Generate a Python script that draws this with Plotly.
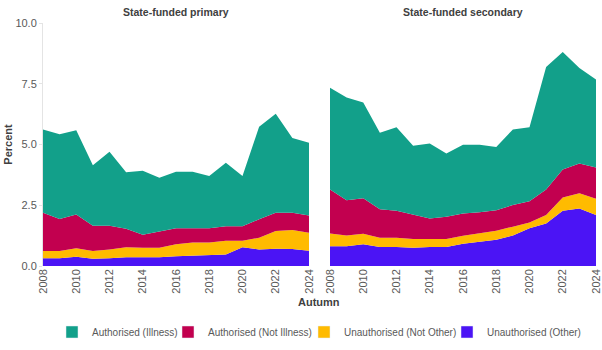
import plotly.graph_objects as go

years = list(range(2008, 2025))

series_names = ["Authorised (Illness)", "Authorised (Not Illness)",
                "Unauthorised (Not Other)", "Unauthorised (Other)"]
colors = ["#12A08A", "#C2004F", "#FFBB00", "#4B14F5"]

# State-funded primary
prim_illness = [3.43, 3.49, 3.47, 2.49, 3.04, 2.33, 2.63, 2.21, 2.33, 2.33, 2.15, 2.61, 2.06, 3.81, 4.08, 3.08, 2.99]
prim_not_illness = [1.57, 1.31, 1.39, 1.04, 0.98, 0.76, 0.54, 0.67, 0.66, 0.58, 0.58, 0.60, 0.60, 0.76, 0.75, 0.71, 0.71]
prim_not_other = [0.30, 0.30, 0.35, 0.32, 0.36, 0.41, 0.39, 0.39, 0.49, 0.55, 0.55, 0.57, 0.27, 0.48, 0.73, 0.78, 0.74]
prim_other = [0.32, 0.32, 0.38, 0.30, 0.32, 0.36, 0.36, 0.36, 0.40, 0.42, 0.42, 0.47, 0.77, 0.68, 0.71, 0.70, 0.63]

# State-funded secondary
sec_illness = [4.19, 4.22, 3.94, 3.14, 3.44, 2.85, 3.09, 2.60, 2.83, 2.78, 2.61, 3.11, 3.05, 5.04, 4.84, 3.93, 3.63]
sec_not_illness = [1.81, 1.45, 1.46, 1.18, 1.11, 0.99, 0.84, 0.92, 0.91, 0.87, 0.84, 0.89, 0.87, 1.05, 1.15, 1.23, 1.28]
sec_not_other = [0.53, 0.45, 0.43, 0.38, 0.38, 0.36, 0.33, 0.33, 0.33, 0.34, 0.37, 0.36, 0.24, 0.35, 0.55, 0.62, 0.67]
sec_other = [0.81, 0.81, 0.90, 0.78, 0.78, 0.75, 0.78, 0.78, 0.92, 1.00, 1.08, 1.26, 1.55, 1.75, 2.27, 2.37, 2.10]

panel_titles = ["State-funded primary", "State-funded secondary"]
y_ticks = [0, 2.5, 5, 7.5, 10]
y_ticktext = ["0.0", "2.5", "5.0", "7.5", "10.0"]
x_ticks = list(range(2008, 2025, 2))

FONT = "Liberation Sans, Arial, sans-serif"
TICK_COL = "#595959"
TITLE_COL = "#404040"

fig = go.Figure()

panels = [
    ("x", "y", "p", [prim_illness, prim_not_illness, prim_not_other, prim_other]),
    ("x2", "y2", "s", [sec_illness, sec_not_illness, sec_not_other, sec_other]),
]
order = [3, 2, 1, 0]  # bottom to top: Other, Not Other, Not Illness, Illness
for xa, ya, sg, vals in panels:
    for idx in order:
        fig.add_trace(go.Scatter(
            x=years, y=vals[idx], xaxis=xa, yaxis=ya, stackgroup=sg,
            mode="lines", line=dict(width=0, color=colors[idx]),
            fillcolor=colors[idx], showlegend=False, name=series_names[idx],
            hoverinfo="skip"))

# legend entries (square swatches), one small legend per entry
legend_ids = ["legend", "legend2", "legend3", "legend4"]
legend_x_px = [66, 182, 318, 461]
for name, col, lid in zip(series_names, colors, legend_ids):
    fig.add_trace(go.Bar(x=[None], y=[None], name=name, marker_color=col,
                         showlegend=True, legend=lid, xaxis="x", yaxis="y"))

axis_x = dict(range=[2008, 2024], tickmode="array", tickvals=x_ticks,
              tickangle=-90, showgrid=False, zeroline=False, showline=False,
              ticks="", tickfont=dict(size=11, color=TICK_COL, family=FONT),
              fixedrange=True, automargin=False)

legend_common = dict(orientation="h", xref="container", yref="container",
                     xanchor="left", y=1 - 332 / 350, yanchor="middle",
                     font=dict(size=10, color=TICK_COL, family=FONT),
                     itemclick=False, bgcolor="rgba(0,0,0,0)", borderwidth=0)

W = 602
layout_legends = {}
for lid, px in zip(legend_ids, legend_x_px):
    layout_legends[lid] = dict(x=(px - 14) / W, **legend_common)

fig.update_layout(
    width=602, height=350,
    margin=dict(l=43, r=6, t=23, b=84, autoexpand=False),
    paper_bgcolor="white", plot_bgcolor="white",
    font=dict(family=FONT, color=TICK_COL),
    xaxis=dict(domain=[0, 0.481], **axis_x),
    xaxis2=dict(domain=[0.519, 1], **axis_x),
    yaxis=dict(range=[0, 10], tickvals=y_ticks, ticktext=y_ticktext,
               showgrid=False, zeroline=False, showline=True,
               linecolor="#e4e4e4", linewidth=1, ticks="outside",
               ticklen=3, tickcolor="#e4e4e4", automargin=False,
               tickfont=dict(size=11, color=TICK_COL, family=FONT),
               title=dict(text="<b>Percent</b>", standoff=0,
                          font=dict(size=11, color=TITLE_COL, family=FONT))),
    yaxis2=dict(range=[0, 10], anchor="x2", matches="y", showticklabels=False,
                showgrid=False, zeroline=False, showline=False, ticks="",
                automargin=False),
    showlegend=True,
    bargap=0,
    **layout_legends,
)

fig.add_annotation(text="<b>%s</b>" % panel_titles[0], xref="x domain", yref="paper",
                   x=0.5, y=1.045, showarrow=False, yanchor="middle",
                   font=dict(size=10.5, color=TITLE_COL, family=FONT))
fig.add_annotation(text="<b>%s</b>" % panel_titles[1], xref="x2 domain", yref="paper",
                   x=0.5, y=1.045, showarrow=False, yanchor="middle",
                   font=dict(size=10.5, color=TITLE_COL, family=FONT))
fig.add_annotation(text="<b>Autumn</b>", xref="paper", yref="paper",
                   x=(319 - 43) / 553, y=(266 - 302) / 243, showarrow=False,
                   yanchor="middle",
                   font=dict(size=11, color=TITLE_COL, family=FONT))

fig.write_html("out.html")
